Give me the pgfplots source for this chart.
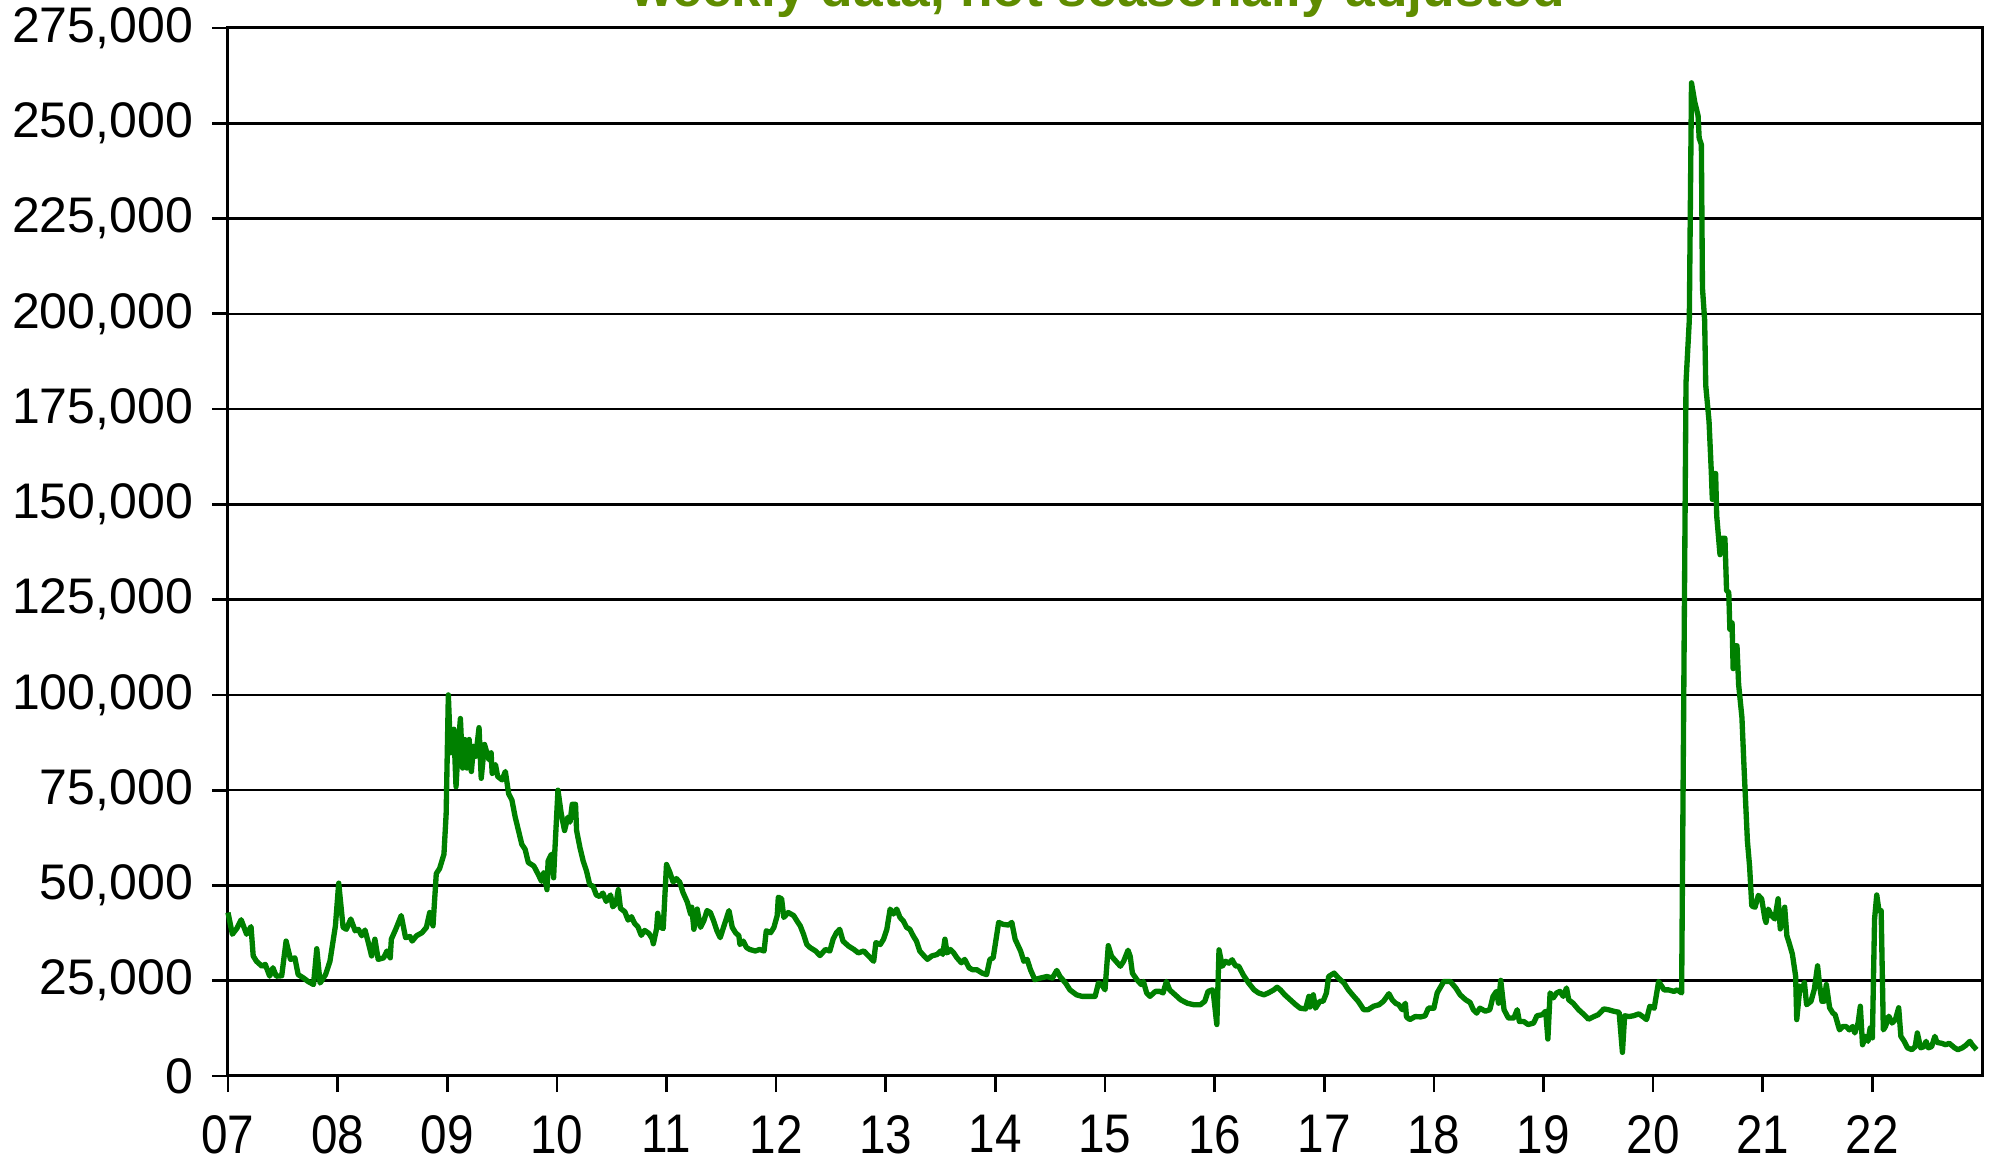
\documentclass[border=0pt]{standalone}
\usepackage{fontspec}
\setmainfont{Liberation Sans}
\usepackage{pgfplots}
\pgfplotsset{compat=1.18}
\definecolor{lgreen}{RGB}{0,128,0}
\definecolor{tgreen}{RGB}{95,140,0}
\begin{document}
\begin{tikzpicture}
\begin{axis}[
  scale only axis,
  width=526.2pt, height=314.4pt,
  xmin=2007, xmax=2023, ymin=0, ymax=275,
  xtick={2007,2008,...,2022},
  xticklabels={07,08,09,10,11,12,13,14,15,16,17,18,19,20,21,22},
  ytick={0,25,...,275},
  yticklabels={0,{25,000},{50,000},{75,000},{100,000},{125,000},{150,000},{175,000},{200,000},{225,000},{250,000},{275,000}},
  xtick pos=bottom, ytick pos=left,
  tick align=outside,
  major tick length=4.8pt,
  tick style={black, line width=0.8pt},
  axis line style={black, line width=0.9pt},
  ymajorgrids,
  grid style={black, line width=0.75pt},
  yticklabel style={font=\fontsize{15}{18}\selectfont, xshift=-2.2pt},
  xticklabel style={font=\fontsize{14.3}{16}\selectfont, yscale=1.14, yshift=-2.6pt},
  /pgf/number format/assume math mode=true,
  clip=false,
]
\addplot[lgreen, line width=1.6pt, line join=round] coordinates {
(2007.00,42.9)(2007.04,37.2)(2007.08,38.7)(2007.12,41.0)(2007.17,37.2)(2007.21,39.2)(2007.23,31.5)(2007.26,30.1)(2007.31,28.8)(2007.34,29.3)(2007.38,26.2)(2007.41,28.4)(2007.44,26.2)(2007.49,26.3)(2007.53,35.4)(2007.57,30.6)(2007.61,31.0)(2007.64,26.6)(2007.69,25.7)(2007.73,24.8)(2007.78,24.0)(2007.81,33.4)(2007.84,24.4)(2007.89,26.6)(2007.93,30.1)(2007.98,39.4)
(2008.01,50.6)(2008.05,39.0)(2008.08,38.5)(2008.12,41.2)(2008.16,38.1)(2008.19,38.5)(2008.22,36.8)(2008.25,38.3)(2008.28,35.0)(2008.31,31.5)(2008.34,35.9)(2008.37,30.6)(2008.42,31.0)(2008.45,32.8)(2008.48,31.0)(2008.49,35.9)(2008.53,38.5)(2008.58,42.1)(2008.62,36.3)(2008.66,36.6)(2008.68,35.4)(2008.72,36.8)(2008.77,37.6)(2008.81,39.0)(2008.84,42.9)(2008.87,39.4)(2008.90,53.1)(2008.93,54.4)(2008.97,58.2)(2008.99,68.8)
(2009.01,100)(2009.03,84.8)(2009.06,91.0)(2009.08,75.9)(2009.10,86.5)(2009.12,93.8)(2009.14,80.8)(2009.16,88.3)(2009.18,80.8)(2009.20,88.3)(2009.22,79.9)(2009.24,86.5)(2009.26,83.9)(2009.29,91.4)(2009.31,78.1)(2009.34,87.0)(2009.38,83.0)(2009.40,84.8)(2009.41,79.4)(2009.44,81.7)(2009.46,78.6)(2009.50,77.7)(2009.53,79.9)(2009.56,74.1)(2009.59,72.4)(2009.62,67.9)(2009.65,64.4)(2009.68,60.8)(2009.71,59.5)(2009.74,56.0)(2009.79,55.1)(2009.83,52.9)(2009.86,51.1)(2009.88,53.3)(2009.91,48.9)(2009.92,56.4)(2009.95,58.2)(2009.97,52.0)(2009.98,58.2)
(2010.01,75.0)(2010.04,68.8)(2010.07,64.4)(2010.10,67.9)(2010.12,66.6)(2010.14,71.3)(2010.17,71.3)(2010.18,64.4)(2010.21,60.0)(2010.24,56.4)(2010.27,53.8)(2010.30,50.2)(2010.33,49.8)(2010.36,47.5)(2010.39,47.1)(2010.42,48.0)(2010.45,45.8)(2010.49,47.5)(2010.51,44.4)(2010.54,45.3)(2010.56,48.9)(2010.58,44.0)(2010.62,43.1)(2010.65,40.9)(2010.68,41.8)(2010.71,40.0)(2010.74,39.1)(2010.77,36.9)(2010.80,38.2)(2010.84,37.4)(2010.87,36.0)(2010.88,34.7)(2010.91,38.7)(2010.92,42.7)(2010.94,39.1)(2010.97,38.7)
(2011.00,55.5)(2011.03,53.5)(2011.06,50.9)(2011.09,51.8)(2011.12,50.9)(2011.15,48.2)(2011.19,45.6)(2011.22,42.5)(2011.23,44.3)(2011.25,38.5)(2011.28,43.8)(2011.31,39.0)(2011.34,40.7)(2011.37,43.4)(2011.40,42.9)(2011.43,40.7)(2011.46,38.1)(2011.49,36.3)(2011.52,39.0)(2011.57,43.4)(2011.60,39.0)(2011.63,37.6)(2011.66,36.8)(2011.67,34.5)(2011.70,35.4)(2011.73,33.7)(2011.76,33.2)(2011.81,32.8)(2011.85,33.2)(2011.89,32.8)(2011.91,38.1)(2011.95,37.6)(2011.98,39.0)
(2012.01,42.1)(2012.02,46.9)(2012.05,46.5)(2012.07,41.6)(2012.11,42.9)(2012.16,42.1)(2012.19,40.7)(2012.22,39.4)(2012.25,37.2)(2012.28,34.5)(2012.31,33.7)(2012.36,32.8)(2012.40,31.6)(2012.45,33.2)(2012.49,32.8)(2012.52,35.9)(2012.55,37.6)(2012.58,38.5)(2012.61,35.4)(2012.66,34.1)(2012.71,33.2)(2012.75,32.3)(2012.80,32.8)(2012.83,31.9)(2012.89,30.1)(2012.91,35.0)(2012.95,34.5)(2012.98,35.9)
(2013.01,38.5)(2013.04,43.8)(2013.07,42.5)(2013.10,43.8)(2013.13,41.6)(2013.16,40.7)(2013.19,39.0)(2013.22,38.5)(2013.25,36.8)(2013.28,35.4)(2013.31,32.8)(2013.35,31.5)(2013.38,30.6)(2013.42,31.5)(2013.47,31.9)(2013.50,32.8)(2013.52,31.9)(2013.54,35.9)(2013.56,32.3)(2013.59,33.2)(2013.62,32.3)(2013.65,31.0)(2013.69,29.7)(2013.72,30.6)(2013.76,28.4)(2013.79,27.9)(2013.83,27.9)(2013.88,27.0)(2013.92,26.6)(2013.95,30.6)(2013.98,31.0)
(2014.03,40.3)(2014.07,39.8)(2014.12,39.6)(2014.15,40.3)(2014.18,35.9)(2014.23,32.8)(2014.26,30.1)(2014.29,30.6)(2014.32,27.9)(2014.36,25.3)(2014.41,25.7)(2014.47,26.1)(2014.52,25.7)(2014.56,27.7)(2014.59,26.1)(2014.64,24.4)(2014.68,22.6)(2014.74,21.3)(2014.79,20.9)(2014.85,20.9)(2014.91,20.9)(2014.94,24.4)(2014.97,24.0)
(2015.00,22.6)(2015.03,34.2)(2015.06,31.4)(2015.10,30.1)(2015.14,28.8)(2015.17,30.1)(2015.21,33.0)(2015.23,31.4)(2015.25,27.0)(2015.29,25.3)(2015.33,24.0)(2015.35,24.8)(2015.38,21.8)(2015.41,20.9)(2015.46,22.2)(2015.50,22.2)(2015.53,21.8)(2015.56,24.8)(2015.59,22.6)(2015.64,21.3)(2015.69,20.0)(2015.75,19.1)(2015.81,18.7)(2015.87,18.7)(2015.91,19.6)(2015.94,22.2)(2015.98,22.6)(2015.99,21.3)
(2016.02,13.5)(2016.04,33.1)(2016.07,28.8)(2016.10,30.1)(2016.13,29.6)(2016.16,30.5)(2016.19,28.9)(2016.22,28.8)(2016.26,26.6)(2016.31,24.4)(2016.36,22.6)(2016.40,21.8)(2016.45,21.3)(2016.49,21.8)(2016.54,22.6)(2016.57,23.3)(2016.60,22.6)(2016.64,21.3)(2016.69,20.0)(2016.74,18.7)(2016.78,17.8)(2016.83,17.6)(2016.86,20.9)(2016.87,18.1)(2016.90,21.3)(2016.92,17.8)(2016.96,19.6)(2016.99,19.6)
(2017.02,21.8)(2017.04,26.1)(2017.09,27.0)(2017.13,25.7)(2017.18,24.4)(2017.22,22.6)(2017.27,20.9)(2017.31,19.6)(2017.36,17.4)(2017.40,17.4)(2017.45,18.3)(2017.50,18.7)(2017.54,19.6)(2017.59,21.6)(2017.62,20.0)(2017.65,19.1)(2017.68,18.7)(2017.71,17.4)(2017.74,19.1)(2017.75,15.5)(2017.78,14.8)(2017.83,15.6)(2017.88,15.5)(2017.92,15.8)(2017.95,17.8)
(2018.00,17.8)(2018.03,21.8)(2018.09,24.8)(2018.15,24.8)(2018.20,23.1)(2018.24,21.3)(2018.29,20.0)(2018.33,19.3)(2018.36,17.4)(2018.39,16.5)(2018.42,17.8)(2018.47,17.0)(2018.51,17.4)(2018.54,20.9)(2018.57,22.2)(2018.59,19.1)(2018.61,25.1)(2018.64,17.4)(2018.68,15.2)(2018.73,15.2)(2018.76,17.4)(2018.78,14.3)(2018.82,14.3)(2018.86,13.5)(2018.91,13.9)(2018.94,15.8)(2018.99,16.1)
(2019.02,17.0)(2019.04,9.7)(2019.06,21.8)(2019.09,20.5)(2019.12,21.8)(2019.15,22.2)(2019.18,20.9)(2019.21,23.1)(2019.23,20.0)(2019.27,19.1)(2019.32,17.4)(2019.37,16.1)(2019.41,14.9)(2019.46,15.6)(2019.50,16.1)(2019.55,17.6)(2019.59,17.4)(2019.64,17.0)(2019.69,16.7)(2019.72,6.2)(2019.74,15.8)(2019.78,15.6)(2019.82,15.8)(2019.87,16.3)(2019.91,15.5)(2019.94,14.8)(2019.97,18.3)
(2020.01,17.8)(2020.05,24.8)(2020.10,22.6)(2020.14,22.6)(2020.19,22.2)(2020.22,22.6)(2020.26,21.8)(2020.30,182)(2020.33,198.3)(2020.35,260.6)(2020.38,255.5)(2020.41,252.0)(2020.42,246.1)(2020.44,244.4)(2020.45,206.8)(2020.47,198.3)(2020.48,181.2)(2020.51,171.8)(2020.53,159.0)(2020.54,151.3)(2020.55,158.1)(2020.57,158.1)(2020.58,147.0)(2020.61,136.8)(2020.63,141.1)(2020.655,141.1)(2020.67,127.4)(2020.69,126.9)(2020.70,117.2)(2020.72,118.9)(2020.73,106.9)(2020.75,112.9)(2020.765,112.9)(2020.78,102.7)(2020.81,94.1)(2020.83,80.5)(2020.86,61.7)(2020.88,55.0)(2020.90,44.6)(2020.93,44.3)(2020.96,47.4)(2020.99,46.5)
(2021.02,41.2)(2021.03,40.3)(2021.05,43.8)(2021.08,42.1)(2021.11,41.2)(2021.14,46.5)(2021.16,38.6)(2021.18,41.2)(2021.20,44.3)(2021.22,36.8)(2021.24,35.0)(2021.27,32.0)(2021.30,26.2)(2021.31,14.8)(2021.34,23.6)(2021.36,22.7)(2021.38,24.5)(2021.40,18.7)(2021.44,19.6)(2021.47,22.7)(2021.50,28.9)(2021.52,23.6)(2021.54,19.6)(2021.56,19.6)(2021.58,24.0)(2021.61,17.9)(2021.64,16.5)(2021.66,16.1)(2021.70,12.1)(2021.73,13.0)(2021.76,13.0)(2021.79,12.1)(2021.82,13.0)(2021.84,11.3)(2021.87,13.9)(2021.89,18.3)(2021.91,8.2)(2021.94,10.4)(2021.96,9.1)(2021.98,12.6)
(2022.00,10.0)(2022.02,41.2)(2022.04,47.5)(2022.06,43.4)(2022.08,43.4)(2022.10,12.1)(2022.12,13.0)(2022.15,15.7)(2022.18,13.9)(2022.21,14.8)(2022.24,17.9)(2022.26,10.4)(2022.29,9.1)(2022.32,7.4)(2022.36,6.9)(2022.39,7.7)(2022.41,11.3)(2022.44,7.4)(2022.47,7.7)(2022.49,9.1)(2022.51,7.4)(2022.54,7.7)(2022.57,10.4)(2022.59,8.8)(2022.63,8.6)(2022.67,8.2)(2022.70,8.6)(2022.75,7.4)(2022.78,6.9)(2022.82,7.4)(2022.85,8.0)(2022.89,9.1)(2022.91,8.2)(2022.95,6.9)
};
\end{axis}
\node[anchor=base, font=\fontsize{16}{19}\bfseries\selectfont, text=tgreen, inner sep=0pt]
  at ([xshift=-2.1pt,yshift=6.3pt]current axis.north) {weekly data, not seasonally adjusted};
\pgfresetboundingbox
\path[use as bounding box] ([shift={(-68.4pt,-27.9pt)}]current axis.south west) rectangle ([shift={(2.4pt,8.4pt)}]current axis.north east);
\end{tikzpicture}
\end{document}
